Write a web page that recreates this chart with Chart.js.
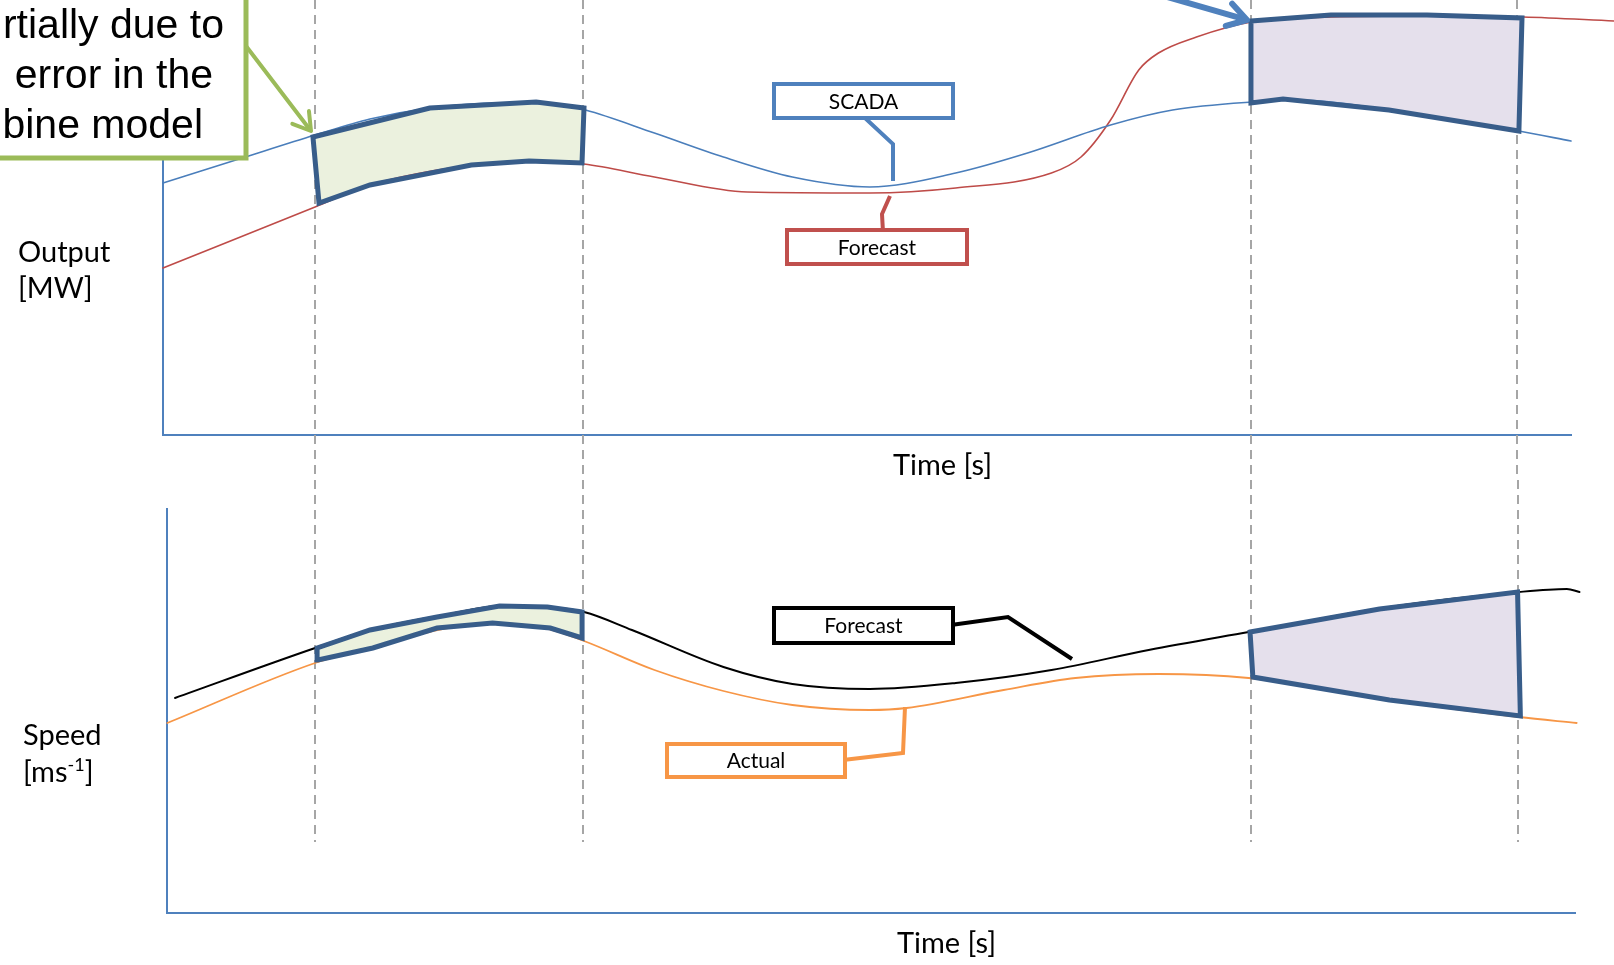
<!DOCTYPE html>
<html>
<head>
<meta charset="utf-8">
<script src="https://cdn.jsdelivr.net/npm/chart.js@4.4.1/dist/chart.umd.min.js"></script>
<style>
  html, body { margin: 0; padding: 0; background: #fff; overflow: hidden; }
  #wrap { position: relative; width: 1614px; height: 965px; }
  canvas { position: absolute; left: 0; }
  #outputChart { top: 0; }
  #speedChart { top: 480px; }
</style>
</head>
<body>
<div id="wrap">
  <canvas id="outputChart" width="1614" height="480"></canvas>
  <canvas id="speedChart" width="1614" height="485"></canvas>
</div>
<script>
// time runs 0..100 (no ticks shown), the four event instants are the dashed guides
const eventTimes = [10.8, 29.8, 77.3, 96.2];

// output [MW]
const scadaTime = [0, 5.4, 10.8, 14.7, 19.0, 23.9, 28.2, 30.0, 34.9, 39.8, 44.7, 50.2, 56.3, 61.4, 67.3, 71.7, 77.3, 80.8, 87.1, 96.3, 100];
const scadaOutput = [63, 69, 75, 79, 81.75, 83, 82.5, 81.25, 75.5, 69.5, 64.5, 62, 65.5, 70.5, 77.5, 81.25, 83.25, 83.75, 81.25, 76, 73.5];
const forecastOutputTime = [0, 10.8, 14.7, 21.9, 26.0, 29.9, 34.9, 41.5, 50.2, 56.3, 63.1, 65.2, 67.3, 69.3, 70.7, 73.4, 77.3, 83.0, 89.8, 96.6, 103.1];
const forecastOutput = [41.75, 57, 62.5, 67.5, 68.5, 67.75, 64.5, 60.75, 60.5, 61.75, 65.5, 69.5, 78.75, 91.25, 95.5, 99.5, 103.25, 104.5, 104.75, 104.5, 103.5];

// error bands on the output plot
const outputBand1Time = [10.65, 18.96, 26.5, 29.9, 29.76, 26.0, 21.9, 14.7, 11.08];
const outputBand1Value = [74.5, 81.75, 83.25, 81.75, 68, 68.5, 67.5, 62.5, 58];
const outputBand2Time = [77.27, 82.95, 89.77, 96.52, 96.3, 87.07, 79.55, 77.27];
const outputBand2Value = [103.5, 105, 105, 104.25, 76, 81.25, 84, 83];

// wind speed [m/s]
const forecastSpeedTime = [0.85, 10.8, 14.7, 20.0, 24.0, 27.1, 29.9, 33.3, 39.8, 44.7, 50.2, 56.3, 63.1, 70.0, 77.1, 87.1, 96.3, 99.7, 100.6];
const forecastSpeed = [53.75, 66.25, 70.75, 74.5, 76.75, 76.5, 75.25, 70.75, 61.5, 57.25, 56, 57.5, 60.75, 65.75, 70.25, 76.5, 80.25, 81, 80.25];
const actualSpeedTime = [0.3, 10.8, 14.7, 19.5, 23.4, 27.4, 29.9, 34.9, 39.8, 44.7, 50.2, 52.8, 59.7, 64.8, 70.7, 77.1, 87.1, 96.3, 100.4];
const actualSpeed = [47.5, 62.5, 66.25, 70.75, 72.5, 71, 68, 60.75, 55.5, 52, 50.75, 51.25, 55.75, 58.75, 59.75, 58.75, 53.25, 49, 47.5];

const speedBand1Time = [10.94, 14.7, 19.46, 23.9, 27.3, 29.76, 29.76, 27.5, 23.4, 19.46, 14.9, 11.0];
const speedBand1Value = [66.25, 70.75, 74, 76.75, 76.5, 75.25, 68.75, 71.25, 72.5, 71.25, 66.25, 63.25];
const speedBand2Time = [77.2, 86.4, 96.2, 96.4, 87.1, 77.4];
const speedBand2Value = [70.25, 76, 80.25, 49.25, 53.25, 59];

const pts = (xs, ys) => xs.map((x, i) => ({ x: x, y: ys[i] }));
// closed outline: repeat first two points so the first corner gets a proper join
const ring = (xs, ys) => { const p = pts(xs, ys); return p.concat([p[0], p[1]]); };

const series = (label, xs, ys, color, width) => ({
  label, data: pts(xs, ys), borderColor: color, borderWidth: width,
  cubicInterpolationMode: 'monotone', clip: false
});
const band = (label, xs, ys, fill) => ({
  label, data: ring(xs, ys), borderColor: '#385D8A', borderWidth: 5,
  tension: 0, borderJoinStyle: 'miter', clip: false, order: -1,
  band: true, bandFill: fill
});

function drawArrow(ctx, from, to, color, width, head) {
  const a = Math.atan2(to[1] - from[1], to[0] - from[0]);
  ctx.strokeStyle = color;
  ctx.lineWidth = width;
  ctx.lineCap = 'round';
  ctx.lineJoin = 'round';
  ctx.beginPath();
  ctx.moveTo(from[0], from[1]);
  ctx.lineTo(to[0] - Math.cos(a) * 2, to[1] - Math.sin(a) * 2);
  ctx.stroke();
  ctx.beginPath();
  ctx.moveTo(to[0] - head * Math.cos(a - 0.55), to[1] - head * Math.sin(a - 0.55));
  ctx.lineTo(to[0], to[1]);
  ctx.lineTo(to[0] - head * Math.cos(a + 0.55), to[1] - head * Math.sin(a + 0.55));
  ctx.stroke();
}

function makeOverlay(cfg) {
  return {
    id: 'overlay',
    beforeDatasetsDraw(chart) {
      const ctx = chart.ctx;
      const x = chart.scales.x;
      ctx.save();
      ctx.strokeStyle = '#a6a6a6';
      ctx.lineWidth = 2;
      ctx.setLineDash([9, 6]);
      eventTimes.forEach(t => {
        const px = Math.round(x.getPixelForValue(t));
        ctx.beginPath();
        ctx.moveTo(px, cfg.guideTop);
        ctx.lineTo(px, cfg.guideBottom);
        ctx.stroke();
      });
      ctx.setLineDash([]);
      chart.data.datasets.forEach((ds, i) => {
        if (!ds.band) return;
        const els = chart.getDatasetMeta(i).data;
        ctx.beginPath();
        els.forEach((p, j) => j ? ctx.lineTo(p.x, p.y) : ctx.moveTo(p.x, p.y));
        ctx.closePath();
        ctx.fillStyle = ds.bandFill;
        ctx.fill();
      });
      ctx.restore();
    },
    afterDraw(chart) {
      const ctx = chart.ctx;
      ctx.save();
      // boxed labels with elbow pointers
      cfg.callouts.forEach(c => {
        ctx.strokeStyle = c.color;
        ctx.lineWidth = 4;
        ctx.lineJoin = 'miter';
        ctx.lineCap = 'butt';
        ctx.beginPath();
        c.pointer.forEach((p, j) => j ? ctx.lineTo(p[0], p[1]) : ctx.moveTo(p[0], p[1]));
        ctx.stroke();
        const [x1, y1, x2, y2] = c.box;
        ctx.fillStyle = '#fff';
        ctx.fillRect(x1, y1, x2 - x1, y2 - y1);
        ctx.strokeRect(x1, y1, x2 - x1, y2 - y1);
        ctx.fillStyle = '#000';
        ctx.font = '21px Lato';
        ctx.textAlign = 'center';
        ctx.textBaseline = 'middle';
        ctx.fillText(c.text, (x1 + x2) / 2, (y1 + y2) / 2 + 1);
      });
      // axis captions
      ctx.textBaseline = 'alphabetic';
      ctx.fillStyle = '#000';
      cfg.texts.forEach(t => {
        ctx.textAlign = 'left';
        let xx = t.x;
        t.parts.forEach(part => {
          ctx.font = part.sup ? '18px Lato' : '29px Lato';
          ctx.fillText(part.s, xx, t.y - (part.sup ? 11 : 0));
          xx += ctx.measureText(part.s).width;
        });
      });
      if (cfg.extra) cfg.extra(ctx);
      ctx.restore();
    }
  };
}

function baseOptions(xMin, xMax, yMax, padding) {
  const axisBorder = { display: true, color: '#4F81BD', width: 2 };
  const noGrid = { display: false, drawTicks: false, tickLength: 0 };
  return {
    responsive: false,
    animation: false,
    events: [],
    layout: { autoPadding: false, padding: padding },
    elements: { point: { radius: 0 }, line: { borderCapStyle: 'round' } },
    plugins: { legend: { display: false }, tooltip: { enabled: false } },
    scales: {
      x: { type: 'linear', min: xMin, max: xMax, grid: noGrid, ticks: { display: false, padding: 0 }, border: axisBorder },
      y: { type: 'linear', min: 0, max: yMax, grid: noGrid, ticks: { display: false, padding: 0 }, border: axisBorder }
    }
  };
}

// ---- output plot ----
new Chart(document.getElementById('outputChart'), {
  type: 'line',
  data: {
    datasets: [
      band('band1', outputBand1Time, outputBand1Value, '#EBF1DE'),
      band('band2', outputBand2Time, outputBand2Value, '#E5E0EC'),
      series('SCADA', scadaTime, scadaOutput, '#4A7EBB', 1.6),
      series('Forecast', forecastOutputTime, forecastOutput, '#BE4B48', 1.6)
    ]
  },
  options: baseOptions(0, 100, 105, { left: 163, right: 43, top: 15, bottom: 45 }),
  plugins: [makeOverlay({
    guideTop: 0,
    guideBottom: 480,
    callouts: [
      { box: [774, 84, 953, 118], color: '#4F81BD', text: 'SCADA', pointer: [[865, 118], [893, 144], [893, 181]] },
      { box: [787, 230, 967, 264], color: '#C0504D', text: 'Forecast', pointer: [[883, 232], [882, 214], [890, 196]] }
    ],
    texts: [
      { x: 18, y: 262, parts: [{ s: 'Output' }] },
      { x: 18, y: 298, parts: [{ s: '[MW]' }] },
      { x: 893, y: 475, parts: [{ s: 'Time [s]' }] }
    ],
    extra(ctx) {
      // note box cut by the left edge
      ctx.fillStyle = '#fff';
      ctx.strokeStyle = '#9BBB59';
      ctx.lineWidth = 5;
      ctx.fillRect(-10, -10, 256, 168);
      ctx.strokeRect(-10, -10, 256, 168);
      ctx.fillStyle = '#000';
      ctx.font = '41px "Liberation Sans", Arial, sans-serif';
      ctx.textAlign = 'right';
      ctx.fillText('rtially due to', 224, 38);
      ctx.fillText('error in the', 213, 88);
      ctx.fillText('bine model', 203, 138);
      drawArrow(ctx, [246, 46], [311, 131], '#9BBB59', 4, 20);
      drawArrow(ctx, [1150, -8], [1247, 20], '#4F81BD', 6, 22);
    }
  })]
});

// ---- speed plot ----
new Chart(document.getElementById('speedChart'), {
  type: 'line',
  data: {
    datasets: [
      band('band1', speedBand1Time, speedBand1Value, '#EBF1DE'),
      band('band2', speedBand2Time, speedBand2Value, '#E5E0EC'),
      series('Forecast', forecastSpeedTime, forecastSpeed, '#000000', 2),
      series('Actual', actualSpeedTime, actualSpeed, '#F79646', 1.8)
    ]
  },
  options: baseOptions(0.28, 100.28, 101, { left: 167, right: 39, top: 29, bottom: 52 }),
  plugins: [makeOverlay({
    guideTop: 0,
    guideBottom: 362,
    callouts: [
      { box: [774, 128, 953, 163], color: '#000000', text: 'Forecast', pointer: [[951, 145], [1008, 137], [1072, 179]] },
      { box: [667, 264, 845, 297], color: '#F79646', text: 'Actual', pointer: [[843, 280], [903, 273], [905, 227]] }
    ],
    texts: [
      { x: 23, y: 265, parts: [{ s: 'Speed' }] },
      { x: 23, y: 302, parts: [{ s: '[ms' }, { s: '-1', sup: true }, { s: ']' }] },
      { x: 897, y: 473, parts: [{ s: 'Time [s]' }] }
    ]
  })]
});
</script>
</body>
</html>
